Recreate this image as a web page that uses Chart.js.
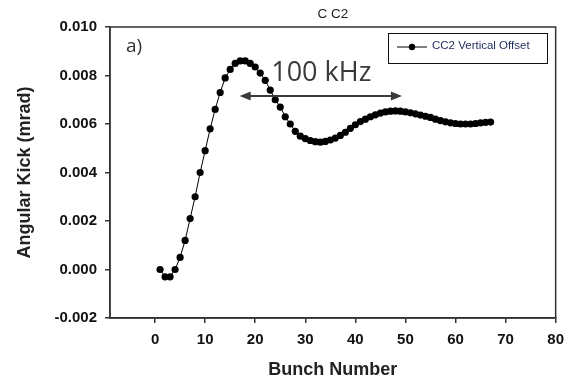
<!DOCTYPE html>
<html>
<head>
<meta charset="utf-8">
<script src="https://cdn.jsdelivr.net/npm/chart.js@4/dist/chart.umd.min.js"></script>
<style>
  html, body { margin: 0; padding: 0; background: #fff; }
  #wrap { width: 572px; height: 379px; position: relative; }
</style>
</head>
<body>
<div id="wrap"><canvas id="chart" width="572" height="379"></canvas></div>
<script>
// bunch numbers 1..67 and the measured kick
const bunches = [
  1, 2, 3, 4, 5, 6, 7, 8, 9, 10,
  11, 12, 13, 14, 15, 16, 17, 18, 19, 20,
  21, 22, 23, 24, 25, 26, 27, 28, 29, 30,
  31, 32, 33, 34, 35, 36, 37, 38, 39, 40,
  41, 42, 43, 44, 45, 46, 47, 48, 49, 50,
  51, 52, 53, 54, 55, 56, 57, 58, 59, 60,
  61, 62, 63, 64, 65, 66, 67
]
const kick = [
  0.0000, -0.0003, -0.0003, 0.0000, 0.0005, 0.0012, 0.0021, 0.0030, 0.0040, 0.0049,
  0.0058, 0.0066, 0.0073, 0.0079, 0.00825, 0.0085, 0.0086, 0.0086, 0.0085, 0.00835,
  0.0081, 0.0078, 0.0074, 0.0070, 0.0067, 0.0063, 0.0060, 0.0057, 0.0055, 0.0054,
  0.00532, 0.00527, 0.00525, 0.00528, 0.00534, 0.00542, 0.00553, 0.00566, 0.00582, 0.00597,
  0.0061, 0.0062, 0.0063, 0.00638, 0.00645, 0.0065, 0.00653, 0.00654, 0.00653, 0.0065,
  0.00646, 0.00642, 0.00637, 0.00632, 0.00627, 0.0062, 0.00614, 0.00609, 0.00605, 0.00602,
  0.0060, 0.0060, 0.0060, 0.00602, 0.00605, 0.00607, 0.00608
]
const seriesLabel = 'CC2 Vertical Offset'
const chartTitle = 'C C2'

const xTicks = [0, 10, 20, 30, 40, 50, 60, 70, 80]
const yTicks = [-0.002, 0.000, 0.002, 0.004, 0.006, 0.008, 0.010]

// annotation: double arrow and its label, in data units
const arrowFrom = [16.9, 0.00715]
const arrowTo = [49.3, 0.00715]
const arrowText = '100 kHz'
const arrowTextAt = [23.2, 0.00779]
const panelText = 'a)'

const INK = '#333'
const FONT = '"Liberation Sans", Arial, sans-serif'

const decorations = {
  id: 'decorations',
  afterDraw (chart) {
    const { ctx, chartArea: a, scales: { x, y } } = chart
    ctx.save()

    // frame round the plot
    ctx.strokeStyle = INK
    ctx.lineWidth = 1.5
    ctx.strokeRect(a.left, a.top, a.right - a.left, a.bottom - a.top)

    // title over the plot area
    ctx.fillStyle = '#222'
    ctx.font = '13.5px ' + FONT
    ctx.textAlign = 'center'
    ctx.textBaseline = 'middle'
    ctx.fillText(chartTitle, (a.left + a.right) / 2, 14)

    // panel label
    ctx.fillStyle = INK
    ctx.font = '19px "Open Sans", sans-serif'
    ctx.textAlign = 'left'
    ctx.fillText(panelText, a.left + 16, a.top + 20)

    // arrow
    const x1 = x.getPixelForValue(arrowFrom[0])
    const x2 = x.getPixelForValue(arrowTo[0])
    const ya = y.getPixelForValue(arrowFrom[1])
    ctx.strokeStyle = '#3a3a3a'
    ctx.fillStyle = '#3a3a3a'
    ctx.lineWidth = 2
    ctx.beginPath()
    ctx.moveTo(x1 + 6, ya)
    ctx.lineTo(x2 - 6, ya)
    ctx.stroke()
    const head = (tip, dir) => {
      ctx.beginPath()
      ctx.moveTo(tip, ya)
      ctx.lineTo(tip - dir * 11, ya - 4.5)
      ctx.lineTo(tip - dir * 11, ya + 4.5)
      ctx.closePath()
      ctx.fill()
    }
    head(x1, -1)
    head(x2, 1)

    ctx.font = '27px "Open Sans", sans-serif'
    ctx.textBaseline = 'alphabetic'
    ctx.fillText(arrowText, x.getPixelForValue(arrowTextAt[0]), y.getPixelForValue(arrowTextAt[1]))

    // legend box
    const lx = a.left + 278
    const ly = a.top + 6
    ctx.fillStyle = '#fff'
    ctx.fillRect(lx, ly, 159, 30)
    ctx.strokeStyle = '#111'
    ctx.lineWidth = 1
    ctx.strokeRect(lx + 0.5, ly + 0.5, 159, 30)
    ctx.strokeStyle = '#000'
    ctx.beginPath()
    ctx.moveTo(lx + 9, ly + 14)
    ctx.lineTo(lx + 39, ly + 14)
    ctx.stroke()
    ctx.fillStyle = '#000'
    ctx.beginPath()
    ctx.arc(lx + 24, ly + 14, 3.2, 0, Math.PI * 2)
    ctx.fill()
    ctx.fillStyle = '#1c2a5c'
    ctx.font = '11.5px ' + FONT
    ctx.textBaseline = 'middle'
    ctx.fillText(seriesLabel, lx + 44, ly + 13)

    ctx.restore()
  }
}

new Chart(document.getElementById('chart'), {
  type: 'line',
  data: {
    labels: bunches,
    datasets: [{
      label: seriesLabel,
      data: bunches.map((b, i) => ({ x: b, y: kick[i] })),
      borderColor: '#000',
      backgroundColor: '#000',
      borderWidth: 1,
      pointRadius: 3.6,
      pointBorderWidth: 0,
      pointStyle: 'circle',
      tension: 0,
      fill: false
    }]
  },
  options: {
    responsive: false,
    animation: false,
    devicePixelRatio: 1,
    layout: { padding: { left: 0, top: 27, right: 15, bottom: 0 } },
    plugins: {
      legend: { display: false },
      tooltip: { enabled: false },
      title: { display: false }
    },
    scales: {
      x: {
        type: 'linear',
        min: -9,
        max: 80,
        afterBuildTicks: (scale) => { scale.ticks = xTicks.map(v => ({ value: v })) },
        afterFit: (scale) => { scale.height = 61 },
        border: { display: true, color: INK, width: 1.5 },
        grid: { drawOnChartArea: false, drawTicks: true, tickLength: 5, color: INK, lineWidth: 1.5 },
        ticks: {
          color: '#111',
          padding: 8,
          font: { family: FONT, size: 15, weight: 'bold' }
        },
        title: {
          display: true,
          text: 'Bunch Number',
          color: '#222',
          padding: 0,
          font: { family: FONT, size: 18, weight: 'bold', lineHeight: 1 }
        }
      },
      y: {
        min: -0.002,
        max: 0.010,
        afterBuildTicks: (scale) => { scale.ticks = yTicks.map(v => ({ value: v })) },
        afterFit: (scale) => { scale.width = 110 },
        border: { display: true, color: INK, width: 1.5 },
        grid: { drawOnChartArea: false, drawTicks: true, tickLength: 5, color: INK, lineWidth: 1.5 },
        ticks: {
          color: '#111',
          padding: 8,
          callback: (v) => v.toFixed(3),
          font: { family: FONT, size: 15, weight: 'bold' }
        },
        title: {
          display: true,
          text: 'Angular Kick (mrad)',
          color: '#222',
          padding: 14,
          font: { family: FONT, size: 18, weight: 'bold' }
        }
      }
    }
  },
  plugins: [decorations]
})
</script>
</body>
</html>
